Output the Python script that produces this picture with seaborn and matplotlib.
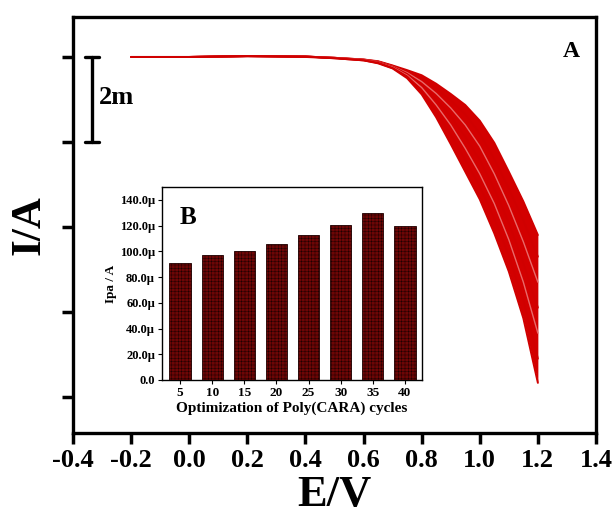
'''
Voltammograms of Poly(CARA) growth cycles with inset of peak current
'''
import numpy as np
import pandas as pd
import matplotlib
matplotlib.use('Agg')
import matplotlib.pyplot as plt
import seaborn as sns

# potential grid (V) shared by all scans
potential = [-0.2, 0.0, 0.2, 0.4, 0.5, 0.6, 0.65, 0.7, 0.75, 0.8, 0.85,
             0.9, 0.95, 1.0, 1.05, 1.1, 1.15, 1.2]
scan_a = [0.0, 0.0, 0.02, 0.01, -0.02, -0.06, -0.10, -0.20, -0.31, -0.43,
          -0.63, -0.87, -1.13, -1.50, -2.02, -2.70, -3.40, -4.19]
scan_b = [0.0, 0.0, 0.02, 0.01, -0.02, -0.06, -0.11, -0.21, -0.34, -0.50,
          -0.74, -1.02, -1.35, -1.80, -2.40, -3.10, -3.85, -4.70]
scan_c = [0.0, 0.0, 0.02, 0.01, -0.02, -0.06, -0.11, -0.22, -0.37, -0.58,
          -0.86, -1.20, -1.60, -2.10, -2.75, -3.50, -4.35, -5.30]
scan_d = [0.0, 0.0, 0.02, 0.01, -0.02, -0.07, -0.12, -0.23, -0.40, -0.65,
          -1.00, -1.40, -1.88, -2.42, -3.10, -3.90, -4.85, -5.90]
scan_e = [0.0, 0.0, 0.02, 0.01, -0.02, -0.07, -0.13, -0.24, -0.43, -0.72,
          -1.13, -1.60, -2.15, -2.75, -3.45, -4.30, -5.30, -6.50]
scan_f = [0.0, 0.0, 0.02, 0.01, -0.03, -0.08, -0.14, -0.26, -0.46, -0.80,
          -1.28, -1.83, -2.42, -3.05, -3.80, -4.68, -5.72, -7.10]
scan_g = [0.0, 0.0, 0.02, 0.00, -0.03, -0.08, -0.15, -0.27, -0.50, -0.88,
          -1.42, -2.05, -2.70, -3.35, -4.15, -5.05, -6.15, -7.67]
scans = [scan_a, scan_b, scan_c, scan_d, scan_e, scan_f, scan_g]

# inset: peak current (uA) vs number of cycles
cycles = ['5', '10', '15', '20', '25', '30', '35', '40']
ipa = [90.7, 96.8, 100.3, 106.0, 113.0, 120.3, 130.0, 119.5]

# 2 mA scale bar
bar_e = -0.333
bar_top = 0.0
bar_bottom = -2.0


def main():
    sns.set_style('ticks')
    plt.rcParams['font.family'] = ['Liberation Serif', 'DejaVu Serif']
    plt.rcParams['font.weight'] = 'bold'
    plt.rcParams['hatch.linewidth'] = 0.35
    for key in ['text.color', 'axes.labelcolor', 'xtick.color',
                'ytick.color', 'axes.edgecolor']:
        plt.rcParams[key] = 'black'

    fig = plt.figure(figsize=(6.16, 5.19), dpi=100)
    ax = fig.add_axes([0.1185, 0.1657, 0.849, 0.8015])

    e = np.array(potential)
    low = np.array(scan_g) * 1e-3
    high = np.array(scan_a) * 1e-3
    ax.fill_between(e, low, high, color='#d30000', lw=0, zorder=1)
    for i, scan in enumerate(scans):
        col = '#e86a6a' if i in (2, 4) else '#d00000'
        sns.lineplot(x=potential, y=np.array(scan) * 1e-3, ax=ax,
                     color=col, lw=1.0 if i in (2, 4) else 1.4, zorder=2)

    ax.set_xlim(-0.4, 1.4)
    ax.set_ylim(-0.00885, 0.00094)
    ax.set_xticks(np.arange(-0.4, 1.41, 0.2))
    ax.set_xticklabels(['%.1f' % v for v in np.arange(-0.4, 1.41, 0.2)],
                       fontsize=19, fontweight='bold')
    ax.set_yticks([0, -0.002, -0.004, -0.006, -0.008])
    ax.set_yticklabels([])
    ax.tick_params(direction='out', length=8, width=2.5)
    for sp in ax.spines.values():
        sp.set_linewidth(2.4)
    ax.set_xlabel('E/V', fontsize=32, fontweight='bold', labelpad=2)
    ax.set_ylabel('I/A', fontsize=31, fontweight='bold', labelpad=6)
    ax.text(0.953, 0.917, 'A', transform=ax.transAxes, fontsize=17,
            fontweight='bold', ha='center', va='center')

    # scale bar
    ax.plot([bar_e, bar_e], [bar_top * 1e-3, bar_bottom * 1e-3],
            color='black', lw=2.4)
    ax.plot([bar_e - 0.024, bar_e + 0.024], [bar_top * 1e-3] * 2,
            color='black', lw=2.4)
    ax.plot([bar_e - 0.024, bar_e + 0.024], [bar_bottom * 1e-3] * 2,
            color='black', lw=2.4)
    ax.text(bar_e + 0.022, -0.95e-3, '2m', fontsize=19, fontweight='bold',
            ha='left', va='center')

    # inset bar chart
    ins = fig.add_axes([162 / 616, (519 - 380) / 519, 260 / 616, 193 / 519])
    df = pd.DataFrame({'cycles': cycles, 'ipa': ipa})
    sns.barplot(data=df, x='cycles', y='ipa', ax=ins, color='#6d0606',
                width=0.66, saturation=1, edgecolor='#1e0000', linewidth=0.6,
                hatch='+++++')
    ins.set_xlim(-0.56, 7.53)
    ins.set_ylim(0, 150)
    ins.set_yticks(np.arange(0, 141, 20))
    ins.set_yticklabels(['0.0'] + ['%.1f\u00b5' % v for v in
                                   np.arange(20, 141, 20)],
                        fontsize=9, fontweight='bold')
    ins.set_xticks(range(len(cycles)))
    ins.set_xticklabels(cycles, fontsize=9.5, fontweight='bold')
    ins.tick_params(direction='out', length=3, width=0.8, pad=2)
    for sp in ins.spines.values():
        sp.set_linewidth(1.0)
    ins.set_xlabel('Optimization of Poly(CARA) cycles', fontsize=11,
                   fontweight='bold', labelpad=2)
    ins.set_ylabel('Ipa / A', fontsize=9.5, fontweight='bold', labelpad=2)
    ins.text(0.1, 0.84, 'B', transform=ins.transAxes, fontsize=18,
             fontweight='bold', ha='center', va='center')

    fig.savefig('out.png', dpi=100)


if __name__ == '__main__':
    main()
